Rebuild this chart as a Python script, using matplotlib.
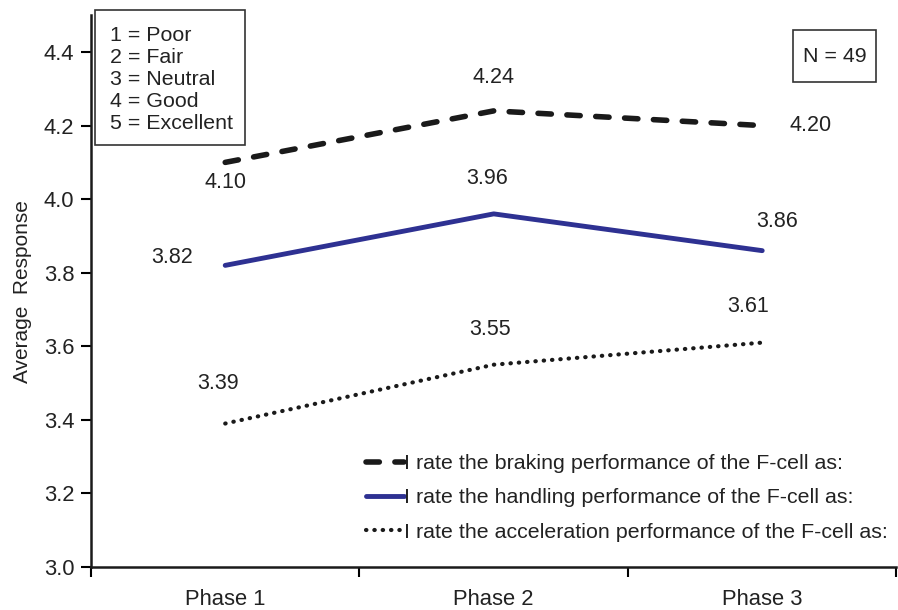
import matplotlib
matplotlib.use("Agg")
import matplotlib.pyplot as plt
from matplotlib.patches import Rectangle

phases = ["Phase 1", "Phase 2", "Phase 3"]
braking = [4.10, 4.24, 4.20]
handling = [3.82, 3.96, 3.86]
accel = [3.39, 3.55, 3.61]
scale_text = "1 = Poor\n2 = Fair\n3 = Neutral\n4 = Good\n5 = Excellent"
labels = ["I rate the braking performance of the F-cell as:",
          "I rate the handling performance of the F-cell as:",
          "I rate the acceleration performance of the F-cell as:"]

plt.rcParams['font.family'] = ['Liberation Sans', 'DejaVu Sans']
fig = plt.figure(figsize=(8.98, 6.10), dpi=100)
ax = fig.add_axes([0.1013, 0.0705, 0.897, 0.9045])

x = [0.5, 1.5, 2.5]
ax.plot(x, braking, color='#1a1a1a', lw=4, linestyle=(0, (2.4, 2.8)), dash_capstyle='round', label=labels[0])
ax.plot(x, handling, color='#2e3192', lw=3.5, solid_capstyle='round', label=labels[1])
ax.plot(x, accel, color='#1a1a1a', lw=3, linestyle=(0, (0.1, 1.9)), dash_capstyle='round', label=labels[2])

# value labels
fs = 15.5
offs_b = [(0, -20), (0, 33), (48, 0)]
offs_h = [(-53, 8), (-7, 35), (15, 29)]
offs_a = [(-7, 40), (-4, 35), (-14, 36)]
for ys, offs in ((braking, offs_b), (handling, offs_h), (accel, offs_a)):
    for xi, yi, (dx, dy) in zip(x, ys, offs):
        ax.annotate("%.2f" % yi, (xi, yi), xytext=(dx, dy), textcoords='offset pixels',
                    ha='center', va='center', fontsize=fs, color='#222222')

ax.set_xlim(0, 3)
ax.set_ylim(3.0, 4.5)
yt = [3.0, 3.2, 3.4, 3.6, 3.8, 4.0, 4.2, 4.4]
ax.set_yticks(yt)
ax.set_yticklabels(["%.1f" % v for v in yt])
ax.set_xticks([0, 1, 2, 3])
ax.set_xticklabels([])
ax.set_xticks(x, minor=True)
ax.set_xticklabels(phases, minor=True)
ax.tick_params(axis='x', which='minor', length=0, pad=16, labelsize=15.8, colors='#222222')
ax.tick_params(axis='x', which='major', length=7, width=1.5, direction='out')
ax.tick_params(axis='y', length=7, width=1.5, direction='out', labelsize=15.8, labelcolor='#222222', pad=5)
for s in ['top', 'right']:
    ax.spines[s].set_visible(False)
for s in ['left', 'bottom']:
    ax.spines[s].set_linewidth(1.8)
    ax.spines[s].set_color('#1a1a1a')
ax.set_ylabel("Average  Response", fontsize=15, color='#222222')
ax.yaxis.set_label_coords(-0.073, 0.5)

# rating scale box
fig.patches.append(Rectangle((0.1058, 0.7623), 0.167, 0.2213, transform=fig.transFigure,
                             fc='white', ec='#333333', lw=1.2, zorder=5))
fig.text(0.1225, 0.8697, scale_text, fontsize=15.4, va='center', ha='left', linespacing=1.21,
         color='#222222', zorder=6)
# sample size box
fig.patches.append(Rectangle((0.883, 0.8656), 0.0924, 0.0852, transform=fig.transFigure,
                             fc='white', ec='#333333', lw=1.2, zorder=5))
fig.text(0.9293, 0.908, "N = 49", fontsize=15.4, va='center', ha='center', color='#222222', zorder=6)

leg = ax.legend(loc='lower right', bbox_to_anchor=(1.0, 0.03), frameon=False, fontsize=15.4,
                handlelength=1.8, handletextpad=0.0, labelspacing=0.72, borderaxespad=0)
for t in leg.get_texts():
    t.set_color('#222222')

fig.savefig("out.png", dpi=100)
